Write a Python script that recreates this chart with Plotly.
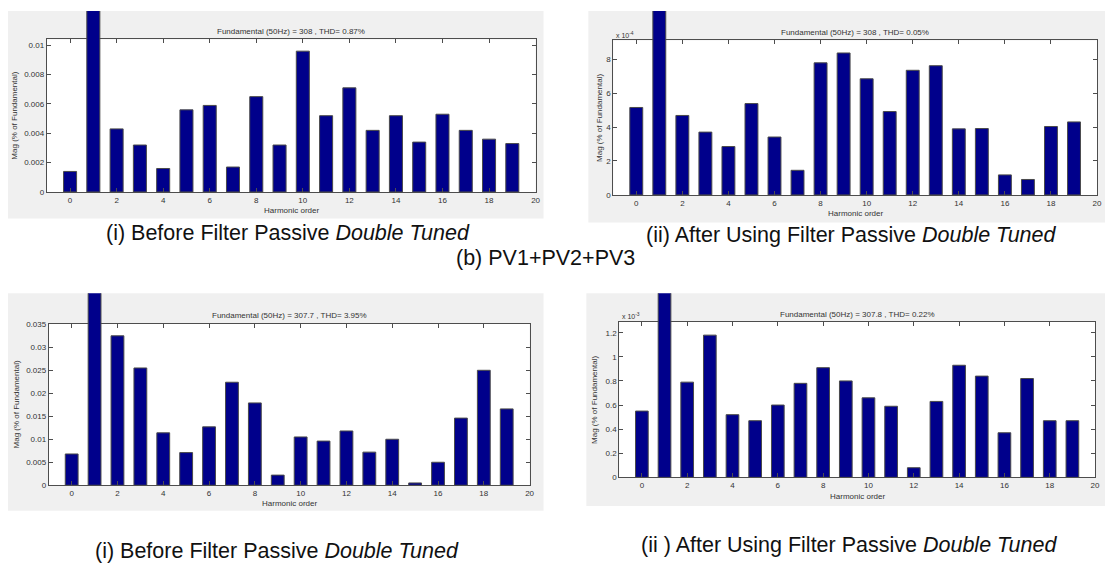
import plotly.graph_objects as go

W, H = 1112, 567

# ---------------------------------------------------------------- data
harmonic_order = list(range(20))
fundamental_order = 1
fundamental_mag = 100.0  # the fundamental itself, in % of fundamental

x_tick_vals = [0, 2, 4, 6, 8, 10, 12, 14, 16, 18, 20]
x_tick_text = ["0", "2", "4", "6", "8", "10", "12", "14", "16", "18", "20"]

# PV1+PV2+PV3, before the passive double tuned filter (% of fundamental)
mag_pv123_before = [0.0014, fundamental_mag, 0.0043, 0.0032, 0.0016, 0.0056, 0.0059,
                    0.0017, 0.0065, 0.0032, 0.0096, 0.0052, 0.0071, 0.0042, 0.0052,
                    0.0034, 0.0053, 0.0042, 0.0036, 0.0033]
y_ticks_pv123_before = [0, 0.002, 0.004, 0.006, 0.008, 0.01]
y_text_pv123_before = ["0", "0.002", "0.004", "0.006", "0.008", "0.01"]

# PV1+PV2+PV3, after the filter (x 10^-4 % of fundamental)
mag_pv123_after = [5.15, fundamental_mag * 1e4, 4.68, 3.70, 2.85, 5.38, 3.41, 1.45,
                   7.78, 8.36, 6.84, 4.91, 7.34, 7.61, 3.89, 3.91, 1.18, 0.91, 4.03, 4.30]
y_ticks_pv123_after = [0, 2, 4, 6, 8]
y_text_pv123_after = ["0", "2", "4", "6", "8"]

# second case, before the filter (% of fundamental)
mag_case2_before = [0.0068, fundamental_mag, 0.0325, 0.0255, 0.0114, 0.0071, 0.0127,
                    0.0224, 0.0179, 0.0022, 0.0105, 0.0096, 0.0118, 0.0072, 0.0100,
                    0.0005, 0.0050, 0.0146, 0.0250, 0.0166]
y_ticks_case2_before = [0, 0.005, 0.01, 0.015, 0.02, 0.025, 0.03, 0.035]
y_text_case2_before = ["0", "0.005", "0.01", "0.015", "0.02", "0.025", "0.03", "0.035"]

# second case, after the filter (x 10^-3 % of fundamental)
mag_case2_after = [0.55, fundamental_mag * 1e3, 0.79, 1.18, 0.52, 0.47, 0.60, 0.78,
                   0.91, 0.80, 0.66, 0.59, 0.08, 0.63, 0.93, 0.84, 0.37, 0.82, 0.47, 0.47]
y_ticks_case2_after = [0, 0.2, 0.4, 0.6, 0.8, 1.0, 1.2]
y_text_case2_after = ["0", "0.2", "0.4", "0.6", "0.8", "1", "1.2"]

titles = [
    "Fundamental (50Hz) = 308 , THD= 0.87%",
    "Fundamental (50Hz) = 308 , THD= 0.05%",
    "Fundamental (50Hz) = 307.7 , THD= 3.95%",
    "Fundamental (50Hz) = 307.8 , THD= 0.22%",
]
exponents = [None, "x 10<sup>-4</sup>", None, "x 10<sup>-3</sup>"]
captions = [
    "(i) Before Filter Passive <i>Double Tuned</i>",
    "(ii) After Using Filter Passive <i>Double Tuned</i>",
    "(i) Before Filter Passive <i>Double Tuned</i>",
    "(ii ) After Using Filter Passive <i>Double Tuned</i>",
]
middle_caption = "(b) PV1+PV2+PV3"
x_title = "Harmonic order"
y_title = "Mag (% of Fundamental)"

# ---------------------------------------------------------------- layout geometry (px)
# axes box: left, right, top, bottom ; grey figure panel: left, right, top, bottom
panels = [
    dict(mags=mag_pv123_before, yt=y_ticks_pv123_before, ytt=y_text_pv123_before,
         ymax=0.0104, box=(47, 538, 36, 191), bg=(8, 546, 7, 218),
         cap=(289, 233), ytitle_x=15),
    dict(mags=mag_pv123_after, yt=y_ticks_pv123_after, ytt=y_text_pv123_after,
         ymax=9.1, box=(616, 1102, 37, 194), bg=(591, 1110, 7, 222),
         cap=(855, 235), ytitle_x=602),
    dict(mags=mag_case2_before, yt=y_ticks_case2_before, ytt=y_text_case2_before,
         ymax=0.0351, box=(49, 532, 325, 489), bg=(8, 546, 294, 515),
         cap=(278, 556), ytitle_x=17),
    dict(mags=mag_case2_after, yt=y_ticks_case2_after, ytt=y_text_case2_after,
         ymax=1.29, box=(622, 1100, 323, 481), bg=(589, 1110, 294, 510),
         cap=(853, 550), ytitle_x=597),
]

BAR_COLOR = "#00008B"
EDGE_COLOR = "#4a4a4a"
AXIS_COLOR = "#4d4d4d"
TEXT_COLOR = "#333333"
FONT = "Liberation Sans, Arial, sans-serif"
BAR_WIDTH = 0.56
CAPTION_SIZE = 21.5


def px_x(p):
    return p / W


def px_y(p):
    return 1 - p / H


fig = go.Figure()
shapes = []
annotations = []
layout_axes = {}

for i, p in enumerate(panels):
    k = i + 1          # main axes
    kf = i + 5         # taller companion axes for the fundamental bar
    l, r, t, b = p["box"]
    gl, gr, gt, gb = p["bg"]

    # grey figure panel
    shapes.append(dict(type="rect", xref="paper", yref="paper",
                       x0=px_x(gl), x1=px_x(gr), y0=px_y(gb), y1=px_y(gt),
                       fillcolor="#f0f0f0", line=dict(width=0), layer="below"))
    # white axes area
    shapes.append(dict(type="rect", xref="paper", yref="paper",
                       x0=px_x(l), x1=px_x(r), y0=px_y(b), y1=px_y(t),
                       fillcolor="white", line=dict(width=0), layer="below"))

    harm_x = [h for h in harmonic_order if h != fundamental_order]
    harm_y = [m for h, m in zip(harmonic_order, p["mags"]) if h != fundamental_order]
    fund_y = [m for h, m in zip(harmonic_order, p["mags"]) if h == fundamental_order]

    fig.add_trace(go.Bar(x=harm_x, y=harm_y, width=BAR_WIDTH,
                         marker=dict(color=BAR_COLOR, line=dict(color=EDGE_COLOR, width=1)),
                         xaxis=f"x{k}", yaxis=f"y{k}", hoverinfo="x+y"))

    # the fundamental bar rises above the axes box up to the panel edge
    ext_ymax = p["ymax"] * (b - gt) / (b - t)
    fig.add_trace(go.Bar(x=[fundamental_order], y=fund_y, width=BAR_WIDTH,
                         marker=dict(color=BAR_COLOR, line=dict(color=EDGE_COLOR, width=1)),
                         xaxis=f"x{kf}", yaxis=f"y{kf}", hoverinfo="x+y"))

    axis_common = dict(showline=True, linecolor=AXIS_COLOR, linewidth=1, mirror="ticks",
                       ticks="inside", ticklen=4, tickcolor=AXIS_COLOR, showgrid=False,
                       zeroline=False, tickfont=dict(family=FONT, size=8, color=TEXT_COLOR))
    layout_axes[f"xaxis{k}"] = dict(domain=[px_x(l), px_x(r)], range=[-1, 20],
                                    anchor=f"y{k}", tickmode="array",
                                    tickvals=x_tick_vals, ticktext=x_tick_text,
                                    **axis_common)
    layout_axes[f"yaxis{k}"] = dict(domain=[px_y(b), px_y(t)], range=[0, p["ymax"]],
                                    anchor=f"x{k}", tickmode="array",
                                    tickvals=p["yt"], ticktext=p["ytt"], **axis_common)
    layout_axes[f"xaxis{kf}"] = dict(domain=[px_x(l), px_x(r)], range=[-1, 20],
                                     anchor=f"y{kf}", visible=False)
    layout_axes[f"yaxis{kf}"] = dict(domain=[px_y(b), px_y(gt)], range=[0, ext_ymax],
                                     anchor=f"x{kf}", visible=False)

    cx = (l + r) / 2
    annotations.append(dict(text=titles[i], xref="paper", yref="paper",
                            x=px_x(cx), y=px_y(t - 8), xanchor="center", yanchor="middle",
                            showarrow=False, font=dict(family=FONT, size=8, color=TEXT_COLOR)))
    annotations.append(dict(text=x_title, xref="paper", yref="paper",
                            x=px_x(cx), y=px_y(b + 19), xanchor="center", yanchor="middle",
                            showarrow=False, font=dict(family=FONT, size=8, color=TEXT_COLOR)))
    annotations.append(dict(text=y_title, xref="paper", yref="paper", textangle=-90,
                            x=px_x(p["ytitle_x"]), y=px_y((t + b) / 2),
                            xanchor="center", yanchor="middle", showarrow=False,
                            font=dict(family=FONT, size=8, color=TEXT_COLOR)))
    if exponents[i]:
        annotations.append(dict(text=exponents[i], xref="paper", yref="paper",
                                x=px_x(l + 1), y=px_y(t - 6), xanchor="left",
                                yanchor="middle", showarrow=False,
                                font=dict(family=FONT, size=7, color=TEXT_COLOR)))
    annotations.append(dict(text=captions[i], xref="paper", yref="paper",
                            x=px_x(p["cap"][0]), y=px_y(p["cap"][1]),
                            xanchor="center", yanchor="middle", showarrow=False,
                            font=dict(family=FONT, size=CAPTION_SIZE, color="#111111")))

annotations.append(dict(text=middle_caption, xref="paper", yref="paper",
                        x=px_x(548), y=px_y(258), xanchor="center", yanchor="middle",
                        showarrow=False,
                        font=dict(family=FONT, size=CAPTION_SIZE, color="#111111")))

fig.update_layout(width=W, height=H, margin=dict(l=0, r=0, t=0, b=0),
                  paper_bgcolor="white", plot_bgcolor="rgba(0,0,0,0)",
                  showlegend=False, shapes=shapes, annotations=annotations,
                  **layout_axes)

fig.write_html("out.html")
